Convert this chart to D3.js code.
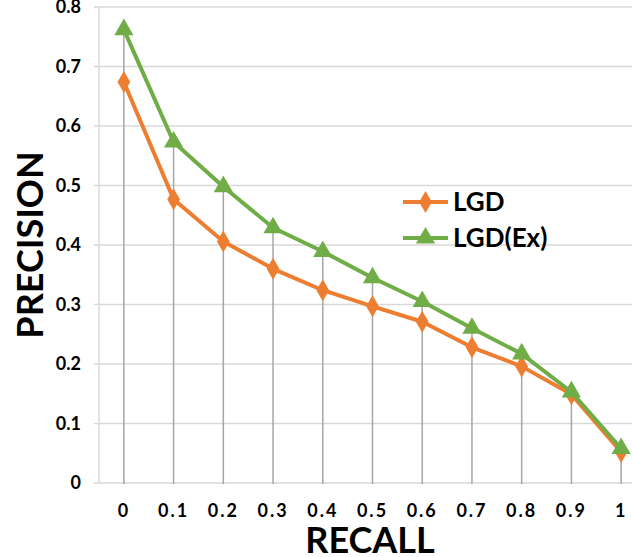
<!DOCTYPE html>
<html>
<head>
<meta charset="utf-8">
<script src="https://cdn.jsdelivr.net/npm/d3@7"></script>
<style>
  body { margin: 0; background: #fff; }
  text { font-family: Lato, "Open Sans", sans-serif; font-weight: bold; fill: #000; }
</style>
</head>
<body>
<div id="chart"></div>
<script>
// data
const recall = ['0', '0.1', '0.2', '0.3', '0.4', '0.5', '0.6', '0.7', '0.8', '0.9', '1'];
const lgd = [0.674, 0.477, 0.406, 0.360, 0.324, 0.297, 0.271, 0.228, 0.196, 0.149, 0.052];
const lgdEx = [0.762, 0.573, 0.498, 0.429, 0.389, 0.345, 0.305, 0.260, 0.217, 0.153, 0.058];
const yTicks = [0, 0.1, 0.2, 0.3, 0.4, 0.5, 0.6, 0.7, 0.8];

const W = 632, H = 557;
const margin = { top: 7, right: -14, bottom: 74, left: 99 };
const width = W - margin.left - margin.right;
const height = H - margin.top - margin.bottom;

const svg = d3.select('#chart').append('svg')
  .attr('width', W).attr('height', H);
const g = svg.append('g')
  .attr('transform', `translate(${margin.left}, ${margin.top})`);

const x = d3.scaleBand().domain(recall).range([0, width]);
const y = d3.scaleLinear().domain([0, 0.8]).range([height, 0]);
const cx = d => x(d) + x.bandwidth() / 2;

// horizontal gridlines
g.append('g').selectAll('line').data(yTicks).join('line')
  .attr('x1', -5).attr('x2', width)
  .attr('y1', d => y(d)).attr('y2', d => y(d))
  .style('stroke', '#d9d9d9').style('stroke-width', 1.5);
g.append('line')
  .attr('x1', 0).attr('x2', 0).attr('y1', 0).attr('y2', height)
  .style('stroke', '#d9d9d9').style('stroke-width', 1.5);

// y axis labels
const yAxis = d3.axisLeft(y).tickValues(yTicks).tickSize(0).tickPadding(18)
  .tickFormat(d => d === 0 ? '0' : d3.format('.1f')(d));
g.append('g').call(yAxis)
  .call(a => a.select('.domain').remove())
  .selectAll('text').style('font-size', '18px');

// x axis labels
const xAxis = d3.axisBottom(x).tickSize(0).tickPadding(21);
g.append('g').attr('transform', `translate(0, ${height})`).call(xAxis)
  .call(a => a.select('.domain').remove())
  .selectAll('text').style('font-size', '18px').style('letter-spacing', '2px');

// drop lines from the higher series
g.append('g').selectAll('line').data(recall).join('line')
  .attr('x1', d => cx(d)).attr('x2', d => cx(d))
  .attr('y1', (d, i) => y(Math.max(lgd[i], lgdEx[i])))
  .attr('y2', height + 1)
  .style('stroke', '#a6a6a6').style('stroke-width', 1.5);

const line = d3.line().x((d, i) => cx(recall[i])).y(d => y(d));
const series = [
  { name: 'LGD', values: lgd, color: '#ed7d31', symbol: d3.symbolDiamond, size: 140 },
  { name: 'LGD(Ex)', values: lgdEx, color: '#70ad47', symbol: d3.symbolTriangle, size: 160 }
];

series.forEach(s => {
  g.append('path').datum(s.values)
    .attr('d', line)
    .style('fill', 'none').style('stroke', s.color).style('stroke-width', 4)
    .style('stroke-linejoin', 'round');
  g.append('g').selectAll('path').data(s.values).join('path')
    .attr('transform', (d, i) => `translate(${cx(recall[i])}, ${y(d)})`)
    .attr('d', d3.symbol().type(s.symbol).size(s.size))
    .style('fill', s.color);
});

// legend
const legend = svg.append('g').attr('transform', 'translate(403, 202)');
series.forEach((s, i) => {
  const row = legend.append('g').attr('transform', `translate(0, ${i * 36})`);
  row.append('line').attr('x1', 0).attr('x2', 45).attr('y1', 0).attr('y2', 0)
    .style('stroke', s.color).style('stroke-width', 4);
  row.append('path').attr('transform', 'translate(22.5, 0)')
    .attr('d', d3.symbol().type(s.symbol).size(s.size)).style('fill', s.color);
  row.append('text').attr('x', 50).attr('dy', '0.35em')
    .style('font-size', '26px').text(s.name);
});

// axis titles
svg.append('text')
  .attr('transform', 'translate(30, 245) rotate(-90)')
  .attr('text-anchor', 'middle').attr('dy', '0.35em')
  .style('font-size', '36px').text('PRECISION');
svg.append('text')
  .attr('x', 370).attr('y', 540)
  .attr('text-anchor', 'middle').attr('dy', '0.35em')
  .style('font-size', '36px').text('RECALL');
</script>
</body>
</html>
